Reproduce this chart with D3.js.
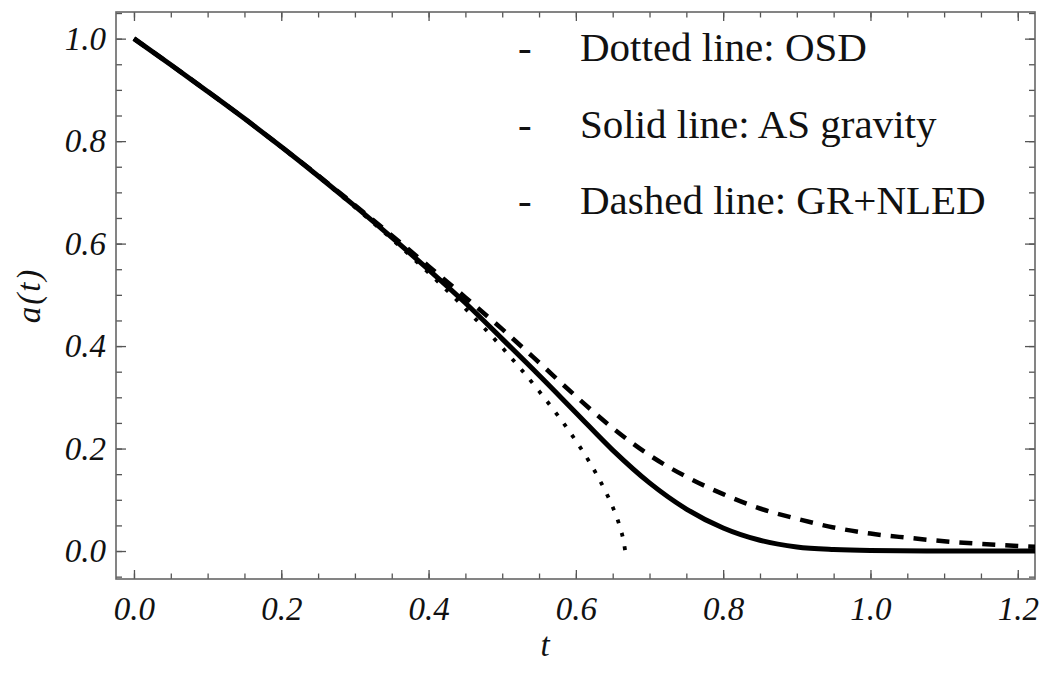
<!DOCTYPE html>
<meta charset="utf-8">
<head>
<script src="https://d3js.org/d3.v7.min.js"></script>
<style>
  body { margin: 0; background: #fff; }
  .tick text { font-family: "Liberation Serif", serif; font-style: italic; font-size: 33px; fill: #111; }
  .tick line { stroke: #555; stroke-width: 1.3; }
  .legend text { font-family: "Liberation Serif", serif; font-size: 41px; fill: #111; }
</style>
</head>
<body>
<div id="my_dataviz"></div>
<script>

// series
var tSolid  = [0, 0.05, 0.1, 0.15, 0.2, 0.25, 0.3, 0.35, 0.4, 0.45, 0.5, 0.55, 0.6, 0.65, 0.7, 0.75, 0.8, 0.85, 0.9, 0.95, 1.0, 1.1, 1.23];
var aSolid  = [1.0, 0.949, 0.897, 0.844, 0.789, 0.732, 0.673, 0.612, 0.549, 0.484, 0.414, 0.343, 0.270, 0.197, 0.133, 0.082, 0.045, 0.021, 0.008, 0.003, 0.001, 0.0, 0.0];

var tDashed = [0, 0.05, 0.1, 0.15, 0.2, 0.25, 0.3, 0.35, 0.4, 0.45, 0.5, 0.55, 0.6, 0.65, 0.7, 0.75, 0.8, 0.85, 0.9, 0.95, 1.0, 1.05, 1.1, 1.15, 1.2, 1.23];
var aDashed = [1.0, 0.949, 0.897, 0.844, 0.789, 0.733, 0.675, 0.616, 0.556, 0.495, 0.433, 0.368, 0.302, 0.240, 0.187, 0.145, 0.111, 0.083, 0.063, 0.046, 0.034, 0.026, 0.019, 0.014, 0.010, 0.008];

var tDotted = [0, 0.05, 0.1, 0.15, 0.2, 0.25, 0.3, 0.35, 0.4, 0.45, 0.5, 0.55, 0.6, 0.62, 0.64, 0.65, 0.66, 0.665, 0.667];
var aDotted = [1.0, 0.949, 0.897, 0.844, 0.788, 0.731, 0.671, 0.609, 0.543, 0.473, 0.397, 0.312, 0.215, 0.170, 0.117, 0.086, 0.046, 0.018, 0.0];

var xMajor = [0, 0.2, 0.4, 0.6, 0.8, 1.0, 1.2];
var yMajor = [0, 0.2, 0.4, 0.6, 0.8, 1.0];
var legendItems = ["Dotted line: OSD", "Solid line: AS gravity", "Dashed line: GR+NLED"];

// set the dimensions and margins of the graph
var margin = {top: 12, right: 6, bottom: 106, left: 116},
    width = 1041 - margin.left - margin.right,
    height = 685 - margin.top - margin.bottom;

var svg = d3.select("#my_dataviz")
  .append("svg")
    .attr("width", width + margin.left + margin.right)
    .attr("height", height + margin.top + margin.bottom)
  .append("g")
    .attr("transform", "translate(" + margin.left + "," + margin.top + ")");

var x = d3.scaleLinear().domain([-0.0244, 1.2234]).range([0, width]);
var y = d3.scaleLinear().domain([-0.0546, 1.052]).range([height, 0]);

var xMinor = d3.range(0, 1.2001, 0.05);
var yMinor = d3.range(-0.05, 1.0501, 0.05);

function fmt(d) { return d3.format(".1f")(d); }

// minor ticks on all four sides
svg.append("g").attr("transform", "translate(0," + height + ")")
  .call(d3.axisBottom(x).tickValues(xMinor).tickSize(-5.5).tickFormat(""));
svg.append("g")
  .call(d3.axisTop(x).tickValues(xMinor).tickSize(-5.5).tickFormat(""));
svg.append("g")
  .call(d3.axisLeft(y).tickValues(yMinor).tickSize(-6).tickFormat(""));
svg.append("g").attr("transform", "translate(" + width + ",0)")
  .call(d3.axisRight(y).tickValues(yMinor).tickSize(-6).tickFormat(""));

// major ticks, labels on bottom and left only
svg.append("g").attr("transform", "translate(0," + height + ")")
  .call(d3.axisBottom(x).tickValues(xMajor).tickSize(-9).tickPadding(18).tickFormat(fmt));
svg.append("g")
  .call(d3.axisTop(x).tickValues(xMajor).tickSize(-9).tickFormat(""));
svg.append("g")
  .call(d3.axisLeft(y).tickValues(yMajor).tickSize(-10).tickPadding(10).tickFormat(fmt));
svg.append("g").attr("transform", "translate(" + width + ",0)")
  .call(d3.axisRight(y).tickValues(yMajor).tickSize(-10).tickFormat(""));

svg.selectAll(".domain").remove();

// frame
svg.append("rect")
  .attr("width", width).attr("height", height)
  .attr("fill", "none").attr("stroke", "#666").attr("stroke-width", 1.6);

// axis titles
svg.append("text")
  .attr("x", 545 - margin.left)
  .attr("y", height + 77)
  .style("text-anchor", "middle")
  .style("font-family", "Liberation Serif, serif")
  .style("font-style", "italic")
  .style("font-size", "33px")
  .style("fill", "#111")
  .text("t");

svg.append("text")
  .attr("transform", "rotate(-90)")
  .attr("x", -height / 2)
  .attr("y", -76)
  .style("text-anchor", "middle")
  .style("font-family", "Liberation Serif, serif")
  .style("font-style", "italic")
  .style("font-size", "33px")
  .style("letter-spacing", "2px")
  .style("fill", "#111")
  .text("a(t)");

// curves
svg.append("clipPath").attr("id", "clip")
  .append("rect").attr("width", width).attr("height", height);

var line = d3.line()
  .x(function(d) { return x(d[0]); })
  .y(function(d) { return y(d[1]); })
  .curve(d3.curveMonotoneX);

function pairs(ts, as) { return ts.map(function(t, i) { return [t, as[i]]; }); }

var plot = svg.append("g").attr("clip-path", "url(#clip)");

plot.append("path")
  .datum(pairs(tDotted, aDotted))
  .attr("d", line)
  .attr("fill", "none")
  .attr("stroke", "#000")
  .attr("stroke-width", 3.8)
  .attr("stroke-dasharray", "3.8,10");

plot.append("path")
  .datum(pairs(tDashed, aDashed))
  .attr("d", line)
  .attr("fill", "none")
  .attr("stroke", "#000")
  .attr("stroke-width", 4.5)
  .attr("stroke-dasharray", "13,10");

plot.append("path")
  .datum(pairs(tSolid, aSolid))
  .attr("d", line)
  .attr("fill", "none")
  .attr("stroke", "#000")
  .attr("stroke-width", 5);

// legend
var legend = svg.append("g").attr("class", "legend");
legend.selectAll("g")
  .data(legendItems)
  .enter()
  .append("g")
    .attr("transform", function(d, i) { return "translate(" + (518 - margin.left) + "," + (61 - margin.top + i * 76.5) + ")"; })
  .each(function(d) {
    d3.select(this).append("text").attr("x", 0).text("-");
    d3.select(this).append("text").attr("x", 580 - 518).text(d);
  });

</script>
</body>
